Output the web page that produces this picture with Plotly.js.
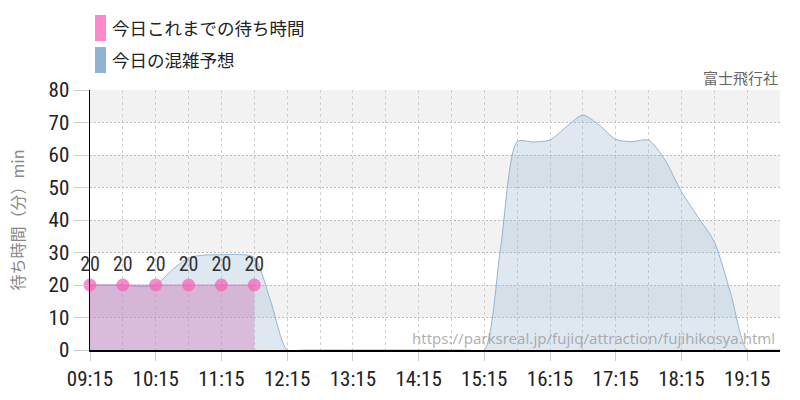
<!DOCTYPE html>
<html>
<head>
<meta charset="utf-8">
<script src="https://cdn.plot.ly/plotly-3.0.1.min.js"></script>
<style>html,body{margin:0;padding:0;background:#fff}#chart{width:800px;height:400px}</style>
</head>
<body>
<div id="chart"></div>
<script>
// ---- data ----
const day = '2024-01-01 ';
const forecastTimes = ['09:15','09:30','09:45','10:00','10:15','10:30','10:45','11:00','11:15','11:30','11:45','12:00','12:15','12:30','12:45','13:00','13:15','13:30','13:45','14:00','14:15','14:30','14:45','15:00','15:15','15:30','15:45','16:00','16:15','16:30','16:45','17:00','17:15','17:30','17:45','18:00','18:15','18:30','18:45','19:00','19:15','19:30','19:45'];
const forecastValues = [20,20,20,19.5,20,24.6,28.4,29.2,29.3,29.4,28.5,15,0,0,0,0,0,0,0,0,0,0,0,0,0,31.8,64.1,64,64.6,68.7,72.3,69.2,64.8,64.1,64.6,58.5,48.7,41,33.3,17.4,0,0,0];
const actualTimes = ['09:15','09:45','10:15','10:45','11:15','11:45'];
const actualValues = [20,20,20,20,20,20];
const tickLabels = ['09:15','10:15','11:15','12:15','13:15','14:15','15:15','16:15','17:15','18:15','19:15'];
const legendLabels = ['今日これまでの待ち時間','今日の混雑予想'];
const yTitle = '待ち時間（分）min';
const brand = '富士飛行社';
const sourceUrl = 'https://parksreal.jp/fujiq/attraction/fujihikosya.html';

const NUM = '"Roboto Condensed", "Liberation Sans Narrow", Roboto, sans-serif';
const JP = '"Noto Sans CJK JP", "Noto Sans", sans-serif';

const traces = [
  {
    x: forecastTimes.map(t => day + t),
    y: forecastValues,
    type: 'scatter',
    mode: 'lines',
    line: {color: '#92b5d2', width: 1, shape: 'spline', smoothing: 0.7},
    fill: 'tozeroy',
    fillcolor: 'rgba(145,180,210,0.3)',
    hoverinfo: 'skip',
    name: legendLabels[1],
    showlegend: false
  },
  {
    x: actualTimes.map(t => day + t),
    y: actualValues,
    type: 'scatter',
    mode: 'lines+markers+text',
    line: {color: 'rgba(220,90,180,0.6)', width: 1},
    marker: {color: 'rgba(245,100,185,0.75)', size: 13},
    fill: 'tozeroy',
    fillcolor: 'rgba(215,120,190,0.4)',
    text: actualValues.map(String),
    textposition: 'top center',
    textfont: {family: NUM, size: 20, color: '#333'},
    cliponaxis: false,
    name: legendLabels[0],
    showlegend: false
  }
];

const W = 690, H = 260, L = 90, T = 90;
const px = x => (x - L) / W;
const py = y => (T + H - y) / H;

const shapes = [];
[[10,20],[30,40],[50,60],[70,80]].forEach(b => shapes.push({
  type: 'rect', xref: 'paper', yref: 'y', x0: 0, x1: 1, y0: b[0], y1: b[1],
  fillcolor: '#f2f2f2', line: {width: 0}, layer: 'below'
}));
shapes.push({type:'rect', xref:'paper', yref:'paper', x0:px(95), x1:px(106), y0:py(41), y1:py(15), fillcolor:'#ff88cc', line:{width:0}});
shapes.push({type:'rect', xref:'paper', yref:'paper', x0:px(95), x1:px(106), y0:py(73), y1:py(47), fillcolor:'#8fb3d0', line:{width:0}});

const annotations = [
  {xref:'paper', yref:'paper', x:px(110), y:py(28), xanchor:'left', yanchor:'middle', showarrow:false, text:legendLabels[0], font:{family:JP, size:17.5, color:'#222'}},
  {xref:'paper', yref:'paper', x:px(110), y:py(60), xanchor:'left', yanchor:'middle', showarrow:false, text:legendLabels[1], font:{family:JP, size:17.5, color:'#222'}},
  {xref:'paper', yref:'paper', x:px(780), y:py(78), xanchor:'right', yanchor:'middle', showarrow:false, text:brand, font:{family:JP, size:15, color:'#666'}},
  {xref:'paper', yref:'paper', x:px(777), y:py(338), xanchor:'right', yanchor:'middle', showarrow:false, text:sourceUrl, font:{family:'"Noto Sans", sans-serif', size:15, color:'rgba(150,150,150,0.75)'}}
];

const layout = {
  width: 800, height: 400,
  margin: {l: L, r: 20, t: T, b: 50, pad: 0},
  paper_bgcolor: '#fff', plot_bgcolor: '#fff',
  showlegend: false,
  xaxis: {
    type: 'date',
    range: [day + '09:15', day + '19:45'],
    tickmode: 'array',
    tickvals: tickLabels.map(t => day + t),
    ticktext: tickLabels,
    ticks: 'outside', ticklen: 9, tickcolor: '#ccc', tickwidth: 1,
    tickfont: {family: NUM, size: 21, color: '#222'},
    showgrid: true, gridcolor: '#d0d0d0', griddash: '3px,3px', gridwidth: 1,
    minor: {tickmode: 'linear', tick0: day + '09:45', dtick: 3600000, showgrid: true, gridcolor: '#d0d0d0', griddash: '3px,3px', ticks: ''},
    showline: true, linecolor: '#000', linewidth: 1.5,
    zeroline: false, fixedrange: true
  },
  yaxis: {
    range: [0, 80], dtick: 10, tick0: 0,
    ticks: 'outside', ticklen: 15, tickcolor: '#ccc', tickwidth: 1,
    tickfont: {family: NUM, size: 21, color: '#222'},
    showgrid: true, gridcolor: '#bdbdbd', griddash: '2px,2px', gridwidth: 1,
    showline: true, linecolor: '#000', linewidth: 1.5,
    zeroline: false, fixedrange: true,
    title: {text: yTitle, font: {family: JP, size: 16, color: '#888'}, standoff: 20}
  },
  shapes: shapes,
  annotations: annotations
};

Plotly.newPlot('chart', traces, layout, {displayModeBar: false, staticPlot: true});
</script>
</body>
</html>
